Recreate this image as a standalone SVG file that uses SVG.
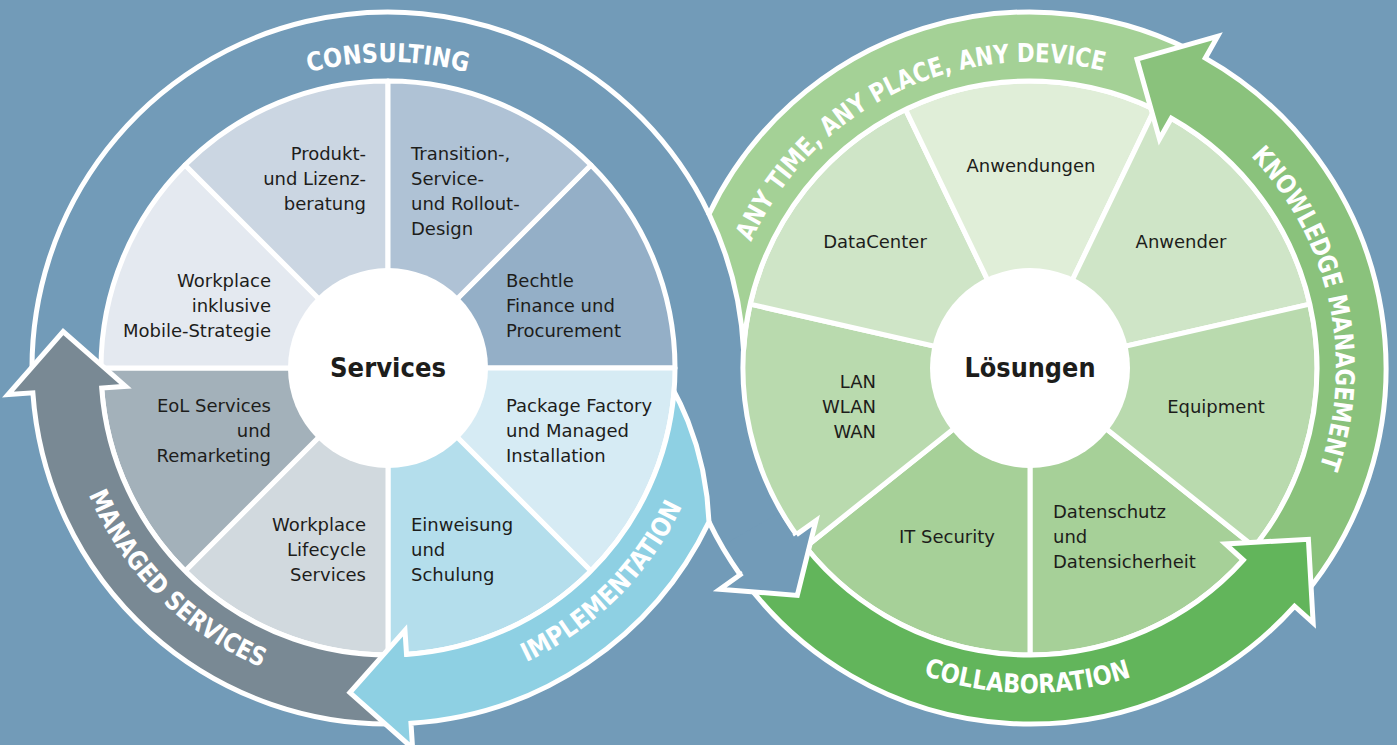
<svg xmlns="http://www.w3.org/2000/svg" width="1397" height="745" viewBox="0 0 1397 745">
<style>
.seg{stroke:#fff;stroke-width:5;stroke-linejoin:round}
.band{stroke:#fff;stroke-width:5;stroke-linejoin:miter;stroke-miterlimit:4}
.line{fill:none;stroke:#fff;stroke-width:5}
.lbl{font-family:"DejaVu Sans","Liberation Sans",sans-serif;font-size:18px;fill:#1d1d1b}
.hub{font-family:"DejaVu Sans","Liberation Sans",sans-serif;font-size:27px;font-weight:bold;fill:#1d1d1b;text-anchor:middle}
.arc{font-family:"DejaVu Sans","Liberation Sans",sans-serif;font-size:26px;font-weight:bold;fill:#fff}
.e{text-anchor:end}.m{text-anchor:middle}
</style>
<defs>
<path id="p-consulting" d="M235,103 A306,306 0 0 1 541,103"/>
<path id="p-managed" d="M74.07,452.12 A325,325 0 0 0 303.88,681.93"/>
<path id="p-impl" d="M472.12,681.93 A325,325 0 0 0 701.93,452.12"/>
<path id="p-anytime" d="M724.8,346.1 A306,306 0 0 1 1201.6,114.6"/>
<path id="p-knowledge" d="M1122,76.2 A306,306 0 0 1 1236.7,593.6"/>
<path id="p-collab" d="M747.13,528.04 A325,325 0 0 0 1310.03,532.95"/>
</defs>
<rect id="background" width="1397" height="745" fill="#729bb8"/>
<path id="left-ring" class="line" d="M32.05,374.21 A356,356 0 0 1 709,214.07"/>

<g id="left-wheel">
<g id="seg-bechtle"><path class="seg" fill="#94afc7" d="M388,368 L590.94,165.06 A287,287 0 0 1 675,368 Z"/>
<text class="lbl"><tspan x="506" y="287">Bechtle</tspan><tspan x="506" y="312">Finance und</tspan><tspan x="506" y="337">Procurement</tspan></text></g>
<g id="seg-package"><path class="seg" fill="#d6ebf4" d="M388,368 L675,368 A287,287 0 0 1 590.94,570.94 Z"/>
<text class="lbl"><tspan x="506" y="412">Package Factory</tspan><tspan x="506" y="437">und Managed</tspan><tspan x="506" y="462">Installation</tspan></text></g>
<g id="seg-einweisung"><path class="seg" fill="#b4deec" d="M388,368 L590.94,570.94 A287,287 0 0 1 388,655 Z"/>
<text class="lbl"><tspan x="411" y="531">Einweisung</tspan><tspan x="411" y="556">und</tspan><tspan x="411" y="581">Schulung</tspan></text></g>
<g id="seg-lifecycle"><path class="seg" fill="#d1d9de" d="M388,368 L388,655 A287,287 0 0 1 185.06,570.94 Z"/>
<text class="lbl e"><tspan x="366" y="531">Workplace</tspan><tspan x="366" y="556">Lifecycle</tspan><tspan x="366" y="581">Services</tspan></text></g>
<g id="seg-eol"><path class="seg" fill="#a3b1ba" d="M388,368 L185.06,570.94 A287,287 0 0 1 101,368 Z"/>
<text class="lbl e"><tspan x="271" y="412">EoL Services</tspan><tspan x="271" y="437">und</tspan><tspan x="271" y="462">Remarketing</tspan></text></g>
<g id="seg-workplace"><path class="seg" fill="#e4e9f0" d="M388,368 L101,368 A287,287 0 0 1 185.06,165.06 Z"/>
<text class="lbl e"><tspan x="271" y="287">Workplace</tspan><tspan x="271" y="312">inklusive</tspan><tspan x="271" y="337">Mobile-Strategie</tspan></text></g>
<g id="seg-produkt"><path class="seg" fill="#cbd6e2" d="M388,368 L185.06,165.06 A287,287 0 0 1 388,81 Z"/>
<text class="lbl e"><tspan x="366" y="160">Produkt-</tspan><tspan x="366" y="185">und Lizenz-</tspan><tspan x="366" y="210">beratung</tspan></text></g>
<g id="seg-transition"><path class="seg" fill="#afc2d5" d="M388,368 L388,81 A287,287 0 0 1 590.94,165.06 Z"/>
<text class="lbl"><tspan x="411" y="160">Transition-,</tspan><tspan x="411" y="185">Service-</tspan><tspan x="411" y="210">und Rollout-</tspan><tspan x="411" y="235">Design</tspan></text></g>
<g id="hub-services"><circle cx="388" cy="368" r="100" fill="#fff"/>
<text class="hub" x="388" y="377" textLength="116" lengthAdjust="spacingAndGlyphs">Services</text></g>
</g>

<g id="right-wheel">
<g id="seg-datenschutz"><path class="seg" fill="#a6d098" d="M1030,368 L1254.38,546.94 A287,287 0 0 1 1030,655 Z"/>
<text class="lbl"><tspan x="1053" y="518">Datenschutz</tspan><tspan x="1053" y="543">und</tspan><tspan x="1053" y="568">Datensicherheit</tspan></text></g>
<g id="seg-itsecurity"><path class="seg" fill="#a6d098" d="M1030,368 L1030,655 A287,287 0 0 1 805.62,546.94 Z"/>
<text class="lbl m" x="947" y="543">IT Security</text></g>
<g id="seg-lan"><path class="seg" fill="#b9daae" d="M1030,368 L805.62,546.94 A287,287 0 0 1 750.19,304.14 Z"/>
<text class="lbl e"><tspan x="876" y="388">LAN</tspan><tspan x="876" y="413">WLAN</tspan><tspan x="876" y="438">WAN</tspan></text></g>
<g id="seg-datacenter"><path class="seg" fill="#cfe5c7" d="M1030,368 L750.19,304.14 A287,287 0 0 1 905.48,109.42 Z"/>
<text class="lbl m" x="875" y="248">DataCenter</text></g>
<g id="seg-anwendungen"><path class="seg" fill="#e0eed8" d="M1030,368 L905.48,109.42 A287,287 0 0 1 1154.52,109.42 Z"/>
<text class="lbl m" x="1031" y="172">Anwendungen</text></g>
<g id="seg-anwender"><path class="seg" fill="#cfe5c7" d="M1030,368 L1154.52,109.42 A287,287 0 0 1 1309.81,304.14 Z"/>
<text class="lbl m" x="1181" y="248">Anwender</text></g>
<g id="seg-equipment"><path class="seg" fill="#b9daae" d="M1030,368 L1309.81,304.14 A287,287 0 0 1 1254.38,546.94 Z"/>
<text class="lbl m" x="1216" y="413">Equipment</text></g>
<g id="hub-loesungen"><circle cx="1030" cy="368" r="100" fill="#fff"/>
<text class="hub" x="1030" y="377" textLength="131" lengthAdjust="spacingAndGlyphs">Lösungen</text></g>
</g>

<g id="connectors">
<path id="band-anytime" class="band" fill="#a4d196" d="M709,214.07 A356,356 0 0 1 1205.3,58.15 L1171.33,118.21 A287,287 0 0 0 743.55,350.1 A356,356 0 0 0 709,214.07 Z"/>
<path id="arrow-knowledge" class="band" fill="#8ac27c" d="M1243.28,560.04 L1294.56,606.21 A356,356 0 0 0 1205.3,58.15 L1217.61,36.39 L1136.96,59.13 L1159.51,139.1 L1171.33,118.21 A287,287 0 0 1 1243.28,560.04 Z"/>
<path id="arrow-collaboration" class="band" fill="#62b55b" d="M740.17,574.73 A356,356 0 0 0 1294.56,606.21 L1313.14,622.94 L1308.4,539.27 L1225.45,543.98 L1243.28,560.04 A287,287 0 0 1 796.35,534.66 Z"/>
<g id="arrow-connect">
<path fill="#729bb8" d="M778.85,513 A290,290 0 0 0 793.91,536.4 L815.89,520.72 L797.3,595.4 L719.82,589.25 L742.62,572.99 A353,353 0 0 1 724.29,544.5 Z"/>
<path class="line" stroke-linejoin="miter" d="M709,521.93 A356,356 0 0 0 740.17,574.73 L719.82,589.25 L797.3,595.4 L815.89,520.72 L796.35,534.66"/>
</g>
<path id="arrow-managed" class="band" fill="#798994" d="M398.02,654.82 A287,287 0 0 1 101.7,388.02 L125.64,386.35 L63.16,331.57 L7.93,394.58 L32.87,392.83 A356,356 0 0 0 400.42,723.78 Z"/>
<path id="arrow-implementation" class="band" fill="#8ed0e3" d="M674.03,391.52 A287,287 0 0 1 406.52,654.4 L404.97,630.45 L349.87,692.64 L412.59,748.21 L410.97,723.26 A356,356 0 0 0 709,521.93 L707.01,496.89 L702.67,470.24 L696.23,444.85 L687.85,420.87 L680.39,403.9 Z"/>
</g>

<g id="band-labels">
<text class="arc"><textPath href="#p-consulting" startOffset="50%" text-anchor="middle" textLength="160" lengthAdjust="spacingAndGlyphs">CONSULTING</textPath></text>
<text class="arc"><textPath href="#p-managed" startOffset="50%" text-anchor="middle" textLength="250" lengthAdjust="spacingAndGlyphs">MANAGED SERVICES</textPath></text>
<text class="arc"><textPath href="#p-impl" startOffset="50%" text-anchor="middle" textLength="225" lengthAdjust="spacingAndGlyphs">IMPLEMENTATION</textPath></text>
<g id="label-anytime">
<text class="arc"><textPath href="#p-anytime" startOffset="107.95" textLength="49.93" lengthAdjust="spacingAndGlyphs">ANY</textPath></text>
<text class="arc"><textPath href="#p-anytime" startOffset="165.32" textLength="66.55" lengthAdjust="spacingAndGlyphs">TIME,</textPath></text>
<text class="arc"><textPath href="#p-anytime" startOffset="239.31" textLength="49.93" lengthAdjust="spacingAndGlyphs">ANY</textPath></text>
<text class="arc"><textPath href="#p-anytime" startOffset="296.68" textLength="84.28" lengthAdjust="spacingAndGlyphs">PLACE,</textPath></text>
<text class="arc"><textPath href="#p-anytime" startOffset="388.4" textLength="49.93" lengthAdjust="spacingAndGlyphs">ANY</textPath></text>
<text class="arc"><textPath href="#p-anytime" startOffset="445.77" textLength="87.17" lengthAdjust="spacingAndGlyphs">DEVICE</textPath></text>
</g>
<g id="label-knowledge">
<text class="arc"><textPath href="#p-knowledge" startOffset="152.95" textLength="154.5" lengthAdjust="spacingAndGlyphs">KNOWLEDGE</textPath></text>
<text class="arc"><textPath href="#p-knowledge" startOffset="314.9" textLength="173" lengthAdjust="spacingAndGlyphs">MANAGEMENT</textPath></text>
</g>
<text class="arc"><textPath href="#p-collab" startOffset="50%" text-anchor="middle" textLength="212" lengthAdjust="spacingAndGlyphs">COLLABORATION</textPath></text>
</g>
</svg>
